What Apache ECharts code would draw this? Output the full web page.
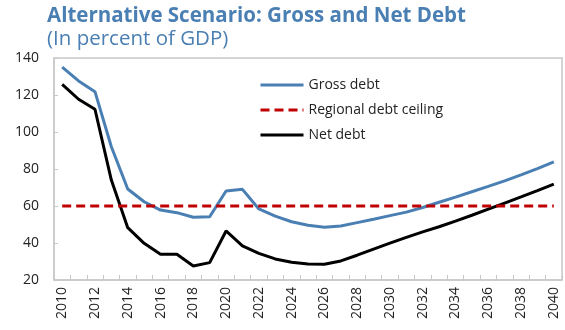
<!DOCTYPE html>
<html>
<head>
<meta charset="utf-8">
<script src="https://cdn.jsdelivr.net/npm/echarts@6/dist/echarts.min.js"></script>
<style>
  html, body { margin: 0; padding: 0; background: #fff; }
  #chart { width: 565px; height: 330px; }
</style>
</head>
<body>
<div id="chart"></div>
<script>
// Years on the horizontal axis
const years = [
  2010, 2011, 2012, 2013, 2014, 2015, 2016, 2017, 2018, 2019,
  2020, 2021, 2022, 2023, 2024, 2025, 2026, 2027, 2028, 2029,
  2030, 2031, 2032, 2033, 2034, 2035, 2036, 2037, 2038, 2039, 2040
];

// Gross debt, percent of GDP
const grossDebt = [
  135.1, 127.6, 121.8, 92.0, 69.2, 62.3, 57.8, 56.4, 53.9, 54.2,
  68.1, 69.0, 58.4, 54.5, 51.5, 49.6, 48.5, 49.2, 51.0, 52.8,
  54.8, 56.7, 59.2, 62.0, 64.8, 67.7, 70.6, 73.6, 76.8, 80.2, 83.8
];

// Net debt, percent of GDP
const netDebt = [
  125.8, 117.7, 112.3, 74.0, 48.3, 39.8, 33.9, 33.9, 27.6, 29.4,
  46.5, 38.4, 34.4, 31.4, 29.6, 28.6, 28.5, 30.3, 33.4, 36.7,
  39.9, 43.0, 46.0, 48.8, 51.8, 55.0, 58.3, 61.6, 64.9, 68.3, 71.8
];

// Regional debt ceiling, percent of GDP
const ceilingLevel = 60;
const ceiling = years.map(() => ceilingLevel);

// Vertical axis range
const yMin = 20, yMax = 140, yStep = 20;

const FONT = '"Open Sans", "Noto Sans", sans-serif';
const BLUE = '#4a7fb3';
const AXIS_GREY = '#c8c8c8';

const chart = echarts.init(document.getElementById('chart'), null, { renderer: 'canvas' });

chart.setOption({
  animation: false,
  backgroundColor: '#ffffff',
  title: {
    text: 'Alternative Scenario: Gross and Net Debt',
    subtext: '(In percent of GDP)',
    left: 42,
    top: 1,
    itemGap: 2,
    textStyle: { fontFamily: FONT, fontSize: 20.5, fontWeight: 'bold', color: BLUE },
    subtextStyle: { fontFamily: FONT, fontSize: 20.5, fontWeight: 'normal', color: BLUE }
  },
  legend: {
    orient: 'vertical',
    left: 254,
    top: 73,
    itemWidth: 43,
    itemHeight: 14,
    itemGap: 11,
    itemStyle: { opacity: 0 },
    lineStyle: { width: 3 },
    data: ['Gross debt', 'Regional debt ceiling', 'Net debt'],
    textStyle: { fontFamily: FONT, fontSize: 14, color: '#222' }
  },
  grid: {
    left: 54,
    right: 3,
    top: 58,
    bottom: 50,
    show: true,
    borderColor: AXIS_GREY,
    borderWidth: 1.5
  },
  xAxis: {
    type: 'category',
    data: years,
    boundaryGap: true,
    axisLine: { lineStyle: { color: AXIS_GREY, width: 1.5 } },
    axisTick: { show: true, inside: true, length: 5, interval: 0, lineStyle: { color: AXIS_GREY } },
    axisLabel: {
      interval: 1,
      rotate: 90,
      margin: 7,
      fontFamily: FONT,
      fontSize: 14,
      color: '#222'
    },
    splitLine: { show: false }
  },
  yAxis: {
    type: 'value',
    min: yMin,
    max: yMax,
    interval: yStep,
    axisLine: { show: true, lineStyle: { color: AXIS_GREY, width: 1.5 } },
    axisTick: { show: true, inside: true, length: 4, lineStyle: { color: AXIS_GREY } },
    axisLabel: { margin: 15, fontFamily: FONT, fontSize: 14, color: '#222' },
    splitLine: { show: false }
  },
  series: [
    {
      name: 'Gross debt',
      type: 'line',
      data: grossDebt,
      symbol: 'none',
      lineStyle: { color: BLUE, width: 3 },
      itemStyle: { color: BLUE },
      z: 3
    },
    {
      name: 'Regional debt ceiling',
      type: 'line',
      data: ceiling,
      symbol: 'none',
      lineStyle: { color: '#c00000', width: 3, type: [9, 5] },
      itemStyle: { color: '#c00000' },
      z: 4
    },
    {
      name: 'Net debt',
      type: 'line',
      data: netDebt,
      symbol: 'none',
      lineStyle: { color: '#000000', width: 3 },
      itemStyle: { color: '#000000' },
      z: 3
    }
  ]
});
</script>
</body>
</html>
